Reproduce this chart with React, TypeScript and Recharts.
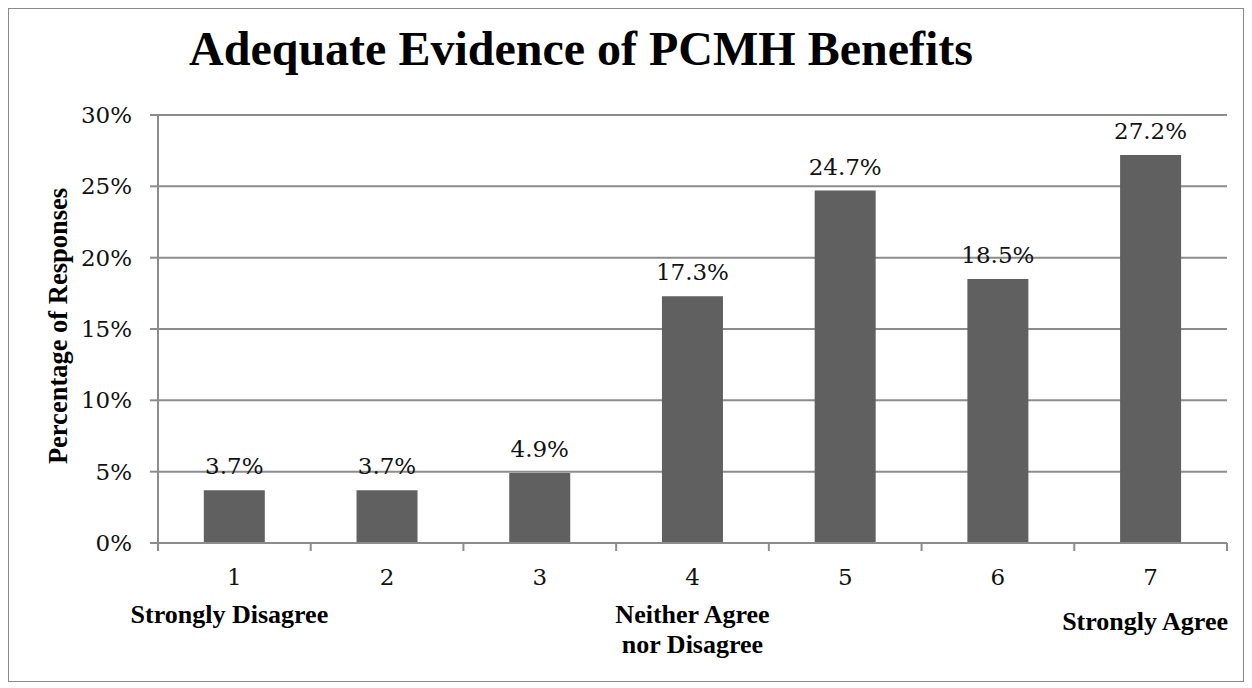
import React from 'react';
import { BarChart, Bar, XAxis, YAxis, CartesianGrid, LabelList } from 'recharts';

const categories = ['1', '2', '3', '4', '5', '6', '7'];
const responses = [3.7, 3.7, 4.9, 17.3, 24.7, 18.5, 27.2];
const scaleLabels = ['Strongly Disagree', '', '', 'Neither Agree\nnor Disagree', '', '', 'Strongly Agree'];
const yTicks = [0, 5, 10, 15, 20, 25, 30];

const data = categories.map((c, i) => ({ category: c, value: responses[i] }));

const CHART_W = 1234;
const CHART_H = 672;
const MARGIN = { top: 106, right: 16, left: 0, bottom: 38 };
const Y_AXIS_W = 149;
const BAND = (CHART_W - MARGIN.right - Y_AXIS_W) / categories.length;

const GRID = '#8c8c8c';
const numFont = '"DejaVu Serif", serif';
const boldFont = '"Liberation Serif", "Times New Roman", serif';

function CategoryTick(props: any) {
  const { x, y, payload, index } = props;
  const sub = scaleLabels[index] || '';
  const lines = sub.split('\n');
  const left = x - BAND / 2;
  const right = x + BAND / 2;

  let anchor: 'middle' | 'end' = 'middle';
  let tx = x;
  let ty = y + 72;
  if (index === 0) tx = x - 5;
  if (index === categories.length - 1) {
    anchor = 'end';
    tx = right + 1;
    ty = y + 79;
  }

  return (
    <g>
      <line x1={left} y1={y - 8} x2={left} y2={y} stroke={GRID} strokeWidth={2} />
      {index === categories.length - 1 && (
        <line x1={right} y1={y - 8} x2={right} y2={y} stroke={GRID} strokeWidth={2} />
      )}
      <text x={x} y={y + 34} textAnchor="middle" fontFamily={numFont} fontSize={23} fill="#111">
        {payload.value}
      </text>
      {sub &&
        lines.map((line: string, i: number) => (
          <text
            key={i}
            x={tx}
            y={ty + i * 30}
            textAnchor={anchor}
            fontFamily={boldFont}
            fontWeight="bold"
            fontSize={26}
            fill="#000"
          >
            {line}
          </text>
        ))}
    </g>
  );
}

export default function App() {
  return (
    <div
      style={{
        position: 'relative',
        width: 1236,
        height: 674,
        border: '1px solid #8a8a8a',
        boxSizing: 'border-box',
        background: '#fff',
      }}
    >
      <div
        style={{
          position: 'absolute',
          left: 72,
          top: 16,
          width: 1000,
          textAlign: 'center',
          fontFamily: boldFont,
          fontWeight: 'bold',
          fontSize: 48,
          lineHeight: '48px',
          color: '#000',
        }}
      >
        Adequate Evidence of PCMH Benefits
      </div>
      <div
        style={{
          position: 'absolute',
          left: 49,
          top: 317,
          transform: 'translate(-50%, -50%) rotate(-90deg)',
          whiteSpace: 'nowrap',
          fontFamily: boldFont,
          fontWeight: 'bold',
          fontSize: 26.5,
          lineHeight: '26px',
          color: '#000',
        }}
      >
        Percentage of Responses
      </div>
      <div style={{ position: 'absolute', left: 0, top: 0 }}>
        <BarChart width={CHART_W} height={CHART_H} data={data} margin={MARGIN} barCategoryGap="30%">
          <CartesianGrid vertical={false} stroke={GRID} strokeWidth={2} />
          <XAxis
            dataKey="category"
            height={100}
            axisLine={{ stroke: GRID, strokeWidth: 2 }}
            tickLine={false}
            tickSize={8}
            tickMargin={0}
            interval={0}
            tick={<CategoryTick />}
          />
          <YAxis
            width={Y_AXIS_W}
            domain={[0, 30]}
            ticks={yTicks}
            interval={0}
            tickFormatter={(v: number) => `${v}%`}
            axisLine={{ stroke: GRID, strokeWidth: 2 }}
            tickLine={{ stroke: GRID, strokeWidth: 2 }}
            tickSize={8}
            tickMargin={18}
            tick={{ fontFamily: numFont, fontSize: 23, fill: '#111' }}
          />
          <Bar dataKey="value" fill="#606060" isAnimationActive={false}>
            <LabelList
              dataKey="value"
              position="top"
              offset={16}
              formatter={(v: any) => `${Number(v).toFixed(1)}%`}
              style={{ fontFamily: numFont, fontSize: 23, fill: '#111' }}
            />
          </Bar>
        </BarChart>
      </div>
    </div>
  );
}
